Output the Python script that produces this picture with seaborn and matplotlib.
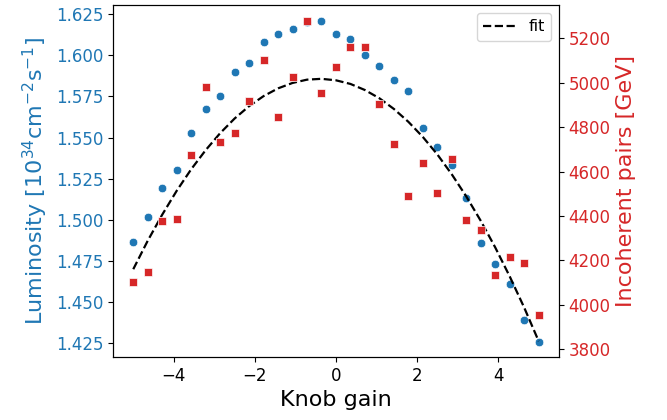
import numpy as np
import pandas as pd
import matplotlib
matplotlib.use("Agg")
import matplotlib.pyplot as plt
import seaborn as sns

# knob gain scan, 29 steps from -5 to 5
knob_gain = [-5.000, -4.643, -4.286, -3.929, -3.571, -3.214, -2.857, -2.500,
             -2.143, -1.786, -1.429, -1.071, -0.714, -0.357, 0.000, 0.357,
             0.714, 1.071, 1.429, 1.786, 2.143, 2.500, 2.857, 3.214,
             3.571, 3.929, 4.286, 4.643, 5.000]

# luminosity [1e34 cm^-2 s^-1]
luminosity = [1.4864, 1.5018, 1.5196, 1.5305, 1.5528, 1.5673, 1.5752, 1.5900,
              1.5954, 1.6082, 1.6129, 1.6161, 1.6200, 1.6206, 1.6129, 1.6096,
              1.5999, 1.5933, 1.5848, 1.5781, 1.5560, 1.5445, 1.5332, 1.5135,
              1.4862, 1.4731, 1.4613, 1.4394, 1.4261]

# incoherent pairs energy [GeV]
incoherent = [4104, 4147, 4378, 4388, 4673, 4979, 4735, 4775,
              4916, 5101, 4846, 5024, 5277, 4955, 5072, 5161,
              5161, 4904, 4723, 4491, 4639, 4502, 4657, 4381,
              4336, 4134, 4217, 4188, 3953]

# fitted curve (left axis units)
fit_values = [1.4701, 1.4874, 1.5032, 1.5177, 1.5308, 1.5424, 1.5527, 1.5616,
              1.5691, 1.5752, 1.5799, 1.5832, 1.5852, 1.5857, 1.5848, 1.5826,
              1.5789, 1.5739, 1.5674, 1.5596, 1.5504, 1.5398, 1.5277, 1.5143,
              1.4995, 1.4833, 1.4657, 1.4468, 1.4264]

df = pd.DataFrame({"gain": knob_gain, "lumi": luminosity,
                   "pairs": incoherent, "fit": fit_values})

fig, ax1 = plt.subplots(figsize=(6.67, 4.2), dpi=100)
fig.subplots_adjust(left=0.1694, right=0.838, top=0.988, bottom=0.15)

sns.scatterplot(data=df, x="gain", y="lumi", ax=ax1, color="tab:blue",
                marker="o", s=38, zorder=2)
sns.lineplot(data=df, x="gain", y="fit", ax=ax1, color="black",
             linestyle="--", linewidth=1.6, zorder=3, label="fit")
ax1.set_xlim(-5.5, 5.5)
ax1.set_ylim(1.4168, 1.6305)
ax1.set_xlabel("Knob gain", fontsize=16)
ax1.set_ylabel(r"Luminosity [$10^{34}$cm$^{-2}$s$^{-1}$]", fontsize=16,
               color="tab:blue")
ax1.tick_params(axis="y", labelcolor="tab:blue", labelsize=12)
ax1.tick_params(axis="x", labelsize=12)
ax1.set_yticks([1.425, 1.45, 1.475, 1.5, 1.525, 1.55, 1.575, 1.6, 1.625])
ax1.get_legend().remove()

ax2 = ax1.twinx()
sns.scatterplot(data=df, x="gain", y="pairs", ax=ax2, color="tab:red",
                marker="s", s=36, zorder=2)
ax2.set_ylim(3765, 5350)
ax2.set_ylabel("Incoherent pairs [GeV]", fontsize=16, color="tab:red")
ax2.tick_params(axis="y", labelcolor="tab:red", labelsize=12)
ax2.set_yticks([3800, 4000, 4200, 4400, 4600, 4800, 5000, 5200])

handles, labels = ax1.get_legend_handles_labels()
ax2.legend(handles, labels, loc="upper right", fontsize=11.5)

fig.savefig("out.png", dpi=100)
